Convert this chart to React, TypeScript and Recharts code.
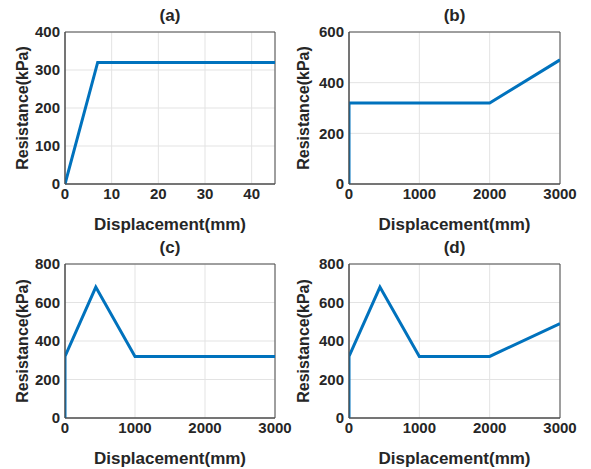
import React from 'react';
import {
  LineChart,
  Line,
  XAxis,
  YAxis,
  CartesianGrid,
  ReferenceArea,
  Label
} from 'recharts';

// displacement (mm) / resistance (kPa) pairs
const dispA = [0, 7, 45];
const resA = [0, 320, 320];

const dispB = [0, 0, 2000, 3000];
const resB = [0, 320, 320, 490];

const dispC = [0, 0, 440, 1000, 3000];
const resC = [0, 320, 680, 320, 320];

const dispD = [0, 0, 440, 1000, 2000, 3000];
const resD = [0, 320, 680, 320, 320, 490];

const xTicksA = [0, 10, 20, 30, 40];
const xTicksLong = [0, 1000, 2000, 3000];
const yTicksA = [0, 100, 200, 300, 400];
const yTicksB = [0, 200, 400, 600];
const yTicksCD = [0, 200, 400, 600, 800];

const FONT = '"Liberation Sans", Arial, sans-serif';
const TEXT = '#262626';
const BOX = '#4d4d4d';
const BLUE = '#0072BD';

const toRows = (xs: number[], ys: number[]) =>
  xs.map((x, i) => ({ x, y: ys[i] }));

interface PanelProps {
  title: string;
  left: number;
  top: number;
  width: number;
  height: number;
  marginTop: number;
  marginRight: number;
  yWidth: number;
  yLabelOffset: number;
  xs: number[];
  ys: number[];
  xMax: number;
  yMax: number;
  xTicks: number[];
  yTicks: number[];
}

function Panel(p: PanelProps) {
  const tick = { fill: TEXT, fontSize: 15, fontWeight: 700, fontFamily: FONT };
  const plotCenter = p.yWidth + (p.width - p.yWidth - p.marginRight) / 2;
  return (
    <div style={{ position: 'absolute', left: p.left, top: p.top, width: p.width, height: p.height }}>
      <div
        style={{
          position: 'absolute',
          left: plotCenter - 30,
          width: 60,
          top: p.marginTop - 26,
          textAlign: 'center',
          fontFamily: FONT,
          fontWeight: 700,
          fontSize: 17,
          color: TEXT,
          lineHeight: '20px'
        }}
      >
        {p.title}
      </div>
      <LineChart
        width={p.width}
        height={p.height}
        data={toRows(p.xs, p.ys)}
        margin={{ top: p.marginTop, right: p.marginRight, bottom: 0, left: 0 }}
      >
        <CartesianGrid stroke="#e3e3e3" strokeWidth={1} />
        <XAxis
          dataKey="x"
          type="number"
          domain={[0, p.xMax]}
          ticks={p.xTicks}
          allowDataOverflow
          height={51}
          tickSize={0}
          tickMargin={4}
          tickLine={false}
          axisLine={{ stroke: BOX, strokeWidth: 1 }}
          tick={tick}
        >
          <Label
            value="Displacement(mm)"
            position="insideBottom"
            offset={5}
            style={{ fill: TEXT, fontSize: 17, fontWeight: 700, fontFamily: FONT }}
          />
        </XAxis>
        <YAxis
          type="number"
          domain={[0, p.yMax]}
          ticks={p.yTicks}
          width={p.yWidth}
          tickSize={0}
          tickMargin={5}
          tickLine={false}
          axisLine={{ stroke: BOX, strokeWidth: 1 }}
          tick={tick}
        >
          <Label
            value="Resistance(kPa)"
            position="insideLeft"
            offset={p.yLabelOffset}
            angle={-90}
            style={{ textAnchor: 'middle', fill: TEXT, fontSize: 16, fontWeight: 700, fontFamily: FONT }}
          />
        </YAxis>
        <ReferenceArea
          x1={0}
          x2={p.xMax}
          y1={0}
          y2={p.yMax}
          fill="none"
          stroke={BOX}
          strokeWidth={1}
        />
        <Line
          type="linear"
          dataKey="y"
          stroke={BLUE}
          strokeWidth={3}
          dot={false}
          isAnimationActive={false}
        />
      </LineChart>
    </div>
  );
}

export default function App() {
  return (
    <div
      style={{
        position: 'absolute',
        left: 0,
        top: 0,
        width: 591,
        height: 469,
        background: '#fff',
        overflow: 'hidden'
      }}
    >
      <Panel
        title="(a)"
        left={0}
        top={0}
        width={295}
        height={235}
        marginTop={32}
        marginRight={20}
        yWidth={65}
        yLabelOffset={22}
        xs={dispA}
        ys={resA}
        xMax={45}
        yMax={400}
        xTicks={xTicksA}
        yTicks={yTicksA}
      />
      <Panel
        title="(b)"
        left={295}
        top={0}
        width={296}
        height={235}
        marginTop={32}
        marginRight={31}
        yWidth={54}
        yLabelOffset={8}
        xs={dispB}
        ys={resB}
        xMax={3000}
        yMax={600}
        xTicks={xTicksLong}
        yTicks={yTicksB}
      />
      <Panel
        title="(c)"
        left={0}
        top={235}
        width={295}
        height={234}
        marginTop={29}
        marginRight={20}
        yWidth={65}
        yLabelOffset={22}
        xs={dispC}
        ys={resC}
        xMax={3000}
        yMax={800}
        xTicks={xTicksLong}
        yTicks={yTicksCD}
      />
      <Panel
        title="(d)"
        left={295}
        top={235}
        width={296}
        height={234}
        marginTop={29}
        marginRight={31}
        yWidth={54}
        yLabelOffset={8}
        xs={dispD}
        ys={resD}
        xMax={3000}
        yMax={800}
        xTicks={xTicksLong}
        yTicks={yTicksCD}
      />
    </div>
  );
}
